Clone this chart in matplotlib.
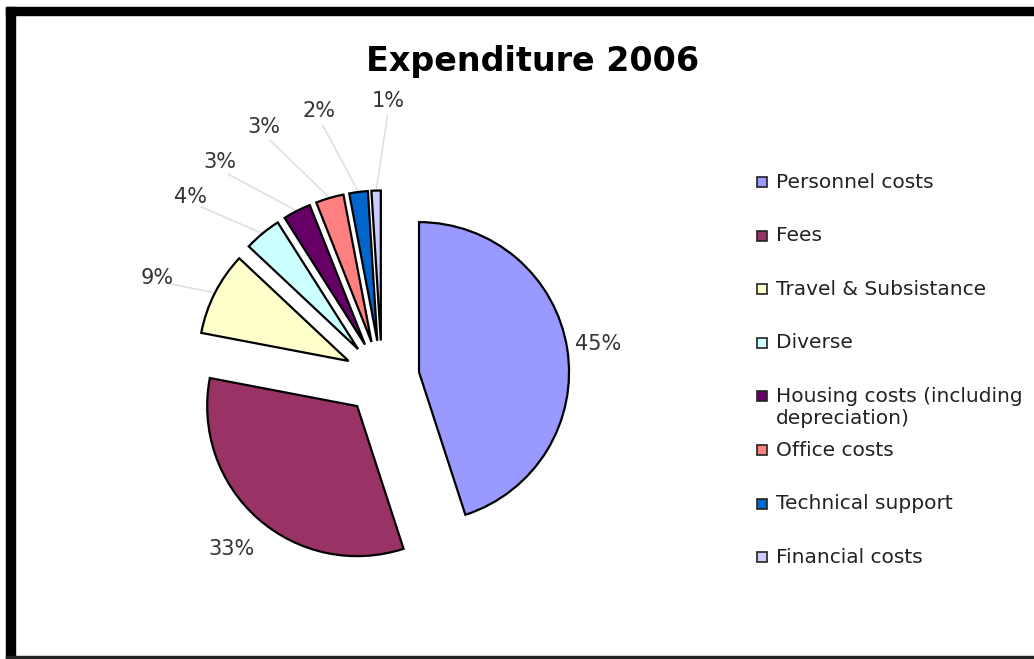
import numpy as np
import matplotlib.pyplot as plt
from matplotlib.patches import Rectangle

# data
categories = ['Personnel costs', 'Fees', 'Travel & Subsistance', 'Diverse',
              'Housing costs (including\ndepreciation)', 'Office costs',
              'Technical support', 'Financial costs']
shares = [45, 33, 9, 4, 3, 3, 2, 1]
colors = ['#9999FF', '#993366', '#FFFFCC', '#CCFFFF',
          '#660066', '#FF8080', '#0066CC', '#CCCCFF']

# label layout (radius in pie radii, clockwise shift in degrees)
label_r = [1.46, 1.52, 1.64, 1.76, 1.80, 1.85, 1.83, 1.85]
label_shift = [0, 0, -3, -7, -10, -9, -6, 3]

W, H = 1034, 659
fig = plt.figure(figsize=(W / 100, H / 100), dpi=100, facecolor='white')

# pie centre and radius in pixels
cx, cy, rad = 382, 378, 150
ax = fig.add_axes([0, 0, 1, 1])
wedges, _ = ax.pie(shares, colors=colors, startangle=90, counterclock=False,
                   explode=[0.25] * len(shares), radius=1,
                   wedgeprops=dict(edgecolor='black', linewidth=1.6))
ax.set_xlim(-cx / rad, (W - cx) / rad)
ax.set_ylim(-(H - cy) / rad, cy / rad)
ax.set_aspect('equal', adjustable='box')
ax.axis('off')

for i, (w, v) in enumerate(zip(wedges, shares)):
    mid = np.deg2rad((w.theta1 + w.theta2) / 2)
    phi = mid - np.deg2rad(label_shift[i])
    lx, ly = label_r[i] * np.cos(phi), label_r[i] * np.sin(phi)
    if i >= 2:
        # leader line from label to the wedge edge
        sx, sy = (label_r[i] - 0.1) * np.cos(phi), (label_r[i] - 0.1) * np.sin(phi)
        ex, ey = 1.25 * np.cos(mid), 1.25 * np.sin(mid)
        ax.plot([sx, ex], [sy, ey], color='#e0e0e0', lw=1.2, zorder=0)
    ax.text(lx, ly, f'{v}%', ha='center', va='center', fontsize=15,
            color='#333333')

fig.text(533 / W, 1 - 62 / H, 'Expenditure 2006', ha='center', va='center',
         fontsize=24, fontweight='bold', color='black')

# legend drawn by hand so the two-line entry keeps even spacing
y0, step, line_h = 182, 53.6, 22
for i, (lab, c) in enumerate(zip(categories, colors)):
    y = y0 + i * step
    fig.add_artist(Rectangle((757 / W, 1 - (y + 5) / H), 10 / W, 10 / H,
                             transform=fig.transFigure, facecolor=c,
                             edgecolor='#222222', linewidth=1.2))
    for k, part in enumerate(lab.split('\n')):
        fig.text(776 / W, 1 - (y + k * line_h) / H, part, ha='left',
                 va='center', fontsize=14.5, color='#222222')

# black frame (top, left, bottom)
fig.add_artist(Rectangle((6 / W, 1 - 15 / H), 1 - 6 / W, 8 / H,
                         transform=fig.transFigure, color='black'))
fig.add_artist(Rectangle((6 / W, 0), 9 / W, 1 - 7 / H,
                         transform=fig.transFigure, color='black'))
fig.add_artist(Rectangle((6 / W, 0), 1 - 6 / W, 3 / H,
                         transform=fig.transFigure, color='#222222'))

fig.savefig('out.png', dpi=100, facecolor='white')
